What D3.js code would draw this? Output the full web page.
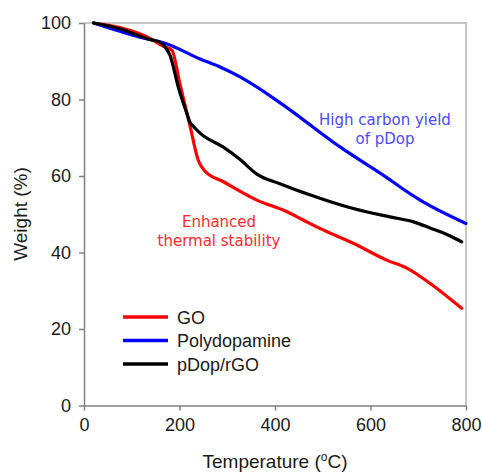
<!DOCTYPE html>
<html><head><meta charset="utf-8">
<script src="https://cdn.jsdelivr.net/npm/d3@7"></script>
<style>body{margin:0;background:#fff}svg{display:block}</style>
</head><body>
<svg id="c" width="482" height="472"></svg>
<script>
const seriesNames = ["GO", "Polydopamine", "pDop/rGO"];
const seriesColors = ["#ff0000", "#0000ff", "#000000"];
const goT = [20, 75, 138, 165, 184, 201, 222, 239, 253, 292, 362, 424, 459, 494, 564, 634, 676, 725, 791];
const goW = [100, 98.8, 96, 94, 92.9, 84, 73.1, 64.2, 61.3, 58.5, 53.7, 50.7, 48.5, 46.3, 42.4, 38, 35.9, 31.9, 25.4];
const pdT = [20, 117, 170, 243, 285, 327, 410, 536, 641, 668, 704, 800];
const pdW = [100, 96.3, 94.7, 90.6, 88.5, 85.9, 79.2, 67.6, 59, 56.6, 53.7, 47.6];
const rgoT = [20, 75, 138, 159, 170, 180, 198, 215, 222, 229, 243, 291, 327, 362, 410, 494, 564, 641, 690, 725, 760, 791];
const rgoW = [100, 98.5, 95.7, 95, 93.7, 91.6, 83, 76.5, 74, 73, 71.2, 67.6, 64.3, 60.5, 58, 54.2, 51.5, 49.3, 48, 46.4, 44.7, 42.8];
const xTicks = [0, 200, 400, 600, 800];
const yTicks = [0, 20, 40, 60, 80, 100];

const svg = d3.select("#c");
const L = 84, R = 466, T = 23, B = 405.5;
const x = d3.scaleLinear().domain([0, 800]).range([L, R]);
const y = d3.scaleLinear().domain([0, 100]).range([B, T]);

// frame top/right
svg.append("path").attr("d", `M${L},${T}H${R}V${B}`).attr("fill", "none").attr("stroke", "#b4b4b4").attr("stroke-width", 1.5);

const xa = svg.append("g").attr("transform", `translate(0,${B})`)
  .call(d3.axisBottom(x).tickValues(xTicks).tickSize(5).tickSizeOuter(0).tickPadding(8));
const ya = svg.append("g").attr("transform", `translate(${L},0)`)
  .call(d3.axisLeft(y).tickValues(yTicks).tickSize(5).tickSizeOuter(0).tickPadding(8));
[xa, ya].forEach(a => {
  a.select(".domain").attr("stroke", "#808080").attr("stroke-width", 1.5);
  a.selectAll(".tick line").attr("stroke", "#808080").attr("stroke-width", 1.5);
  a.selectAll(".tick text").attr("fill", "#1a1a1a").style("font-family", "'Liberation Sans', Arial, sans-serif").style("font-size", "18px");
});

const line = d3.line().x(d => x(d[0])).y(d => y(d[1])).curve(d3.curveMonotoneX);
const data = [d3.zip(goT, goW), d3.zip(pdT, pdW), d3.zip(rgoT, rgoW)];
// draw order: blue, red, black on top
[1, 0, 2].forEach(i => {
  svg.append("path").datum(data[i]).attr("d", line).attr("fill", "none")
    .attr("stroke", seriesColors[i]).attr("stroke-width", 3.2).attr("stroke-linejoin", "round").attr("stroke-linecap", "round");
});

// legend
seriesNames.forEach((n, i) => {
  const ly = 317 + i * 23.5;
  svg.append("line").attr("x1", 123).attr("x2", 168).attr("y1", ly).attr("y2", ly)
    .attr("stroke", seriesColors[i]).attr("stroke-width", 3.5);
  svg.append("text").attr("x", 177).attr("y", ly + 6.5).text(n)
    .style("font-family", "'Liberation Sans', Arial, sans-serif").style("font-size", "18px").attr("fill", "#1a1a1a");
});

// axis titles
svg.append("text").attr("x", 275).attr("y", 468).attr("text-anchor", "middle")
  .style("font-family", "'Liberation Sans', Arial, sans-serif").style("font-size", "19px").attr("fill", "#1a1a1a")
  .call(t => {
    t.append("tspan").text("Temperature (");
    t.append("tspan").text("o").attr("dy", -7).style("font-size", "12px");
    t.append("tspan").text("C)").attr("dy", 7);
  });
svg.append("text").attr("transform", "translate(27,214) rotate(-90)").attr("text-anchor", "middle")
  .style("font-family", "'Liberation Sans', Arial, sans-serif").style("font-size", "19px").attr("fill", "#1a1a1a")
  .text("Weight (%)");

// annotations
const ann = (lines, cx, y0, col) => lines.forEach((s, i) =>
  svg.append("text").attr("x", cx).attr("y", y0 + i * 19).attr("text-anchor", "middle")
    .style("font-family", "'DejaVu Sans', sans-serif").style("font-size", "15px").attr("fill", col).text(s));
ann(["High carbon yield", "of pDop"], 385, 125, "#4a4aff");
ann(["Enhanced", "thermal stability"], 219, 227, "#ff2a2a");
</script>
</body></html>
